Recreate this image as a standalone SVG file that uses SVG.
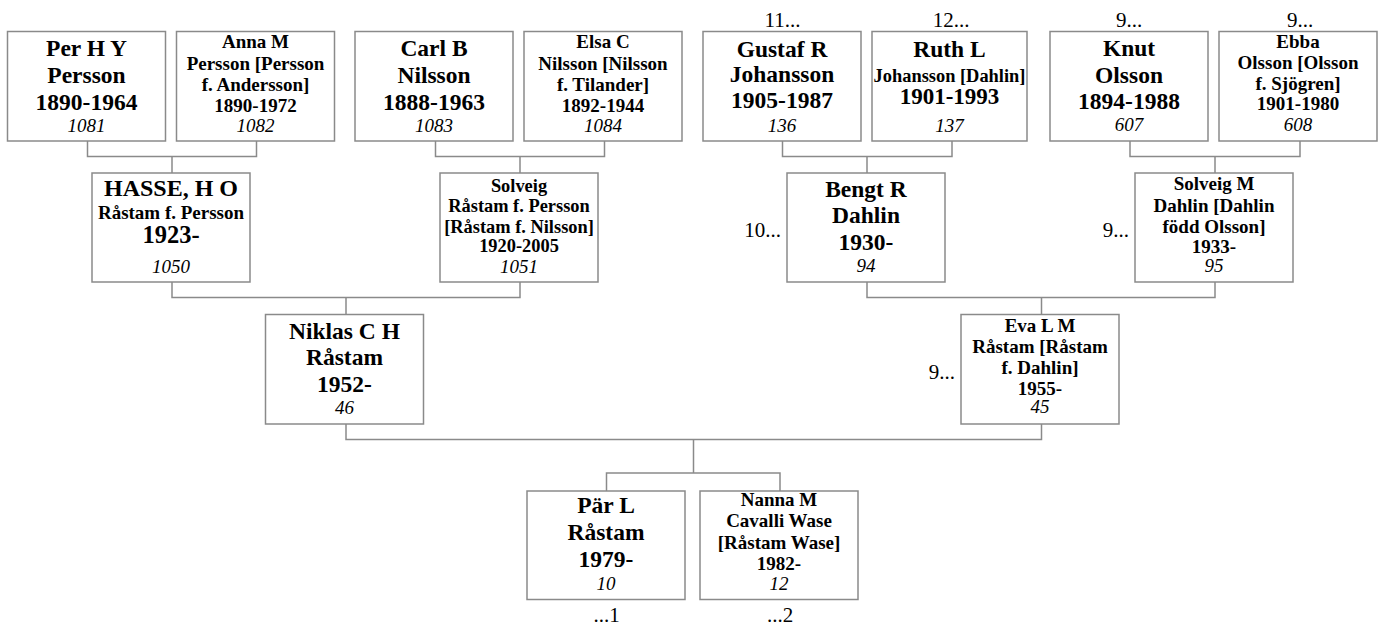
<svg xmlns="http://www.w3.org/2000/svg" width="1382" height="628" viewBox="0 0 1382 628">
<style>
.box{fill:#fff;stroke:#8a8a8a;stroke-width:1.5}
.c{fill:none;stroke:#8a8a8a;stroke-width:1.5}
text{fill:#000;text-anchor:middle}
.b{font-weight:bold;font-size:23.5px}
.s{font-weight:bold;font-size:19px}
.t{font-weight:bold;font-size:18.4px}
.i{font-style:italic;font-size:19px}
.l{font-size:21px}
.r{text-anchor:end}
</style>
<rect width="1382" height="628" fill="#fff"/>
<g id="connectors">
<path class="c" d="M87.5,141V156.5H256.5V141M172,156.5V173"/>
<path class="c" d="M435.5,141V156.5H604.5V141M520,156.5V173"/>
<path class="c" d="M782.5,141V156.5H952V141M867,156.5V173"/>
<path class="c" d="M1130,141V156.5H1300V141M1215,156.5V173"/>
<path class="c" d="M172,282V297.5H520V282M346,297.5V314"/>
<path class="c" d="M867,282V297.5H1215V282M1041.5,297.5V314"/>
<path class="c" d="M346,424V439.5H1041.5V424M693.5,439.5V473"/>
<path class="c" d="M606.5,491V473H780V491"/>
</g>
<g font-family="Liberation Serif, Times New Roman, serif">
<g id="n1081"><rect class="box" x="7.5" y="31.5" width="158" height="109.5"/>
<text class="b" x="86.5" y="56">Per H Y</text><text class="b" x="86.5" y="82.7">Persson</text><text class="b" x="86.5" y="109.5">1890-1964</text><text class="i" x="86.5" y="132.3">1081</text></g>
<g id="n1082"><rect class="box" x="176.5" y="31.5" width="158" height="109.5"/>
<text class="s" x="255.5" y="48.3">Anna M</text><text class="s" x="255.5" y="69.5">Persson [Persson</text><text class="s" x="255.5" y="91">f. Andersson]</text><text class="s" x="255.5" y="111.7">1890-1972</text><text class="i" x="255.5" y="132.3">1082</text></g>
<g id="n1083"><rect class="box" x="355" y="31.5" width="158" height="109.5"/>
<text class="b" x="434" y="56">Carl B</text><text class="b" x="434" y="82.7">Nilsson</text><text class="b" x="434" y="109.5">1888-1963</text><text class="i" x="434" y="132.3">1083</text></g>
<g id="n1084"><rect class="box" x="524" y="31.5" width="158" height="109.5"/>
<text class="s" x="603" y="48.3">Elsa C</text><text class="s" x="603" y="69.5">Nilsson [Nilsson</text><text class="s" x="603" y="91">f. Tilander]</text><text class="s" x="603" y="111.7">1892-1944</text><text class="i" x="603" y="132.3">1084</text></g>
<g id="n136"><rect class="box" x="703" y="31.5" width="158" height="109.5"/>
<text class="l" x="782.5" y="26.7">11...</text>
<text class="b" x="782" y="56.7">Gustaf R</text><text class="b" x="782" y="81.7">Johansson</text><text class="b" x="782" y="108.3">1905-1987</text><text class="i" x="782" y="131.7">136</text></g>
<g id="n137"><rect class="box" x="872" y="31.5" width="155" height="109.5"/>
<text class="l" x="951" y="26.7">12...</text>
<text class="b" x="949.5" y="56.7">Ruth L</text><text class="t" x="949.5" y="81.7">Johansson [Dahlin]</text><text class="b" x="949.5" y="103.5" style="font-size:23px">1901-1993</text><text class="i" x="949.5" y="131.7">137</text></g>
<g id="n607"><rect class="box" x="1050" y="31.5" width="158" height="109.5"/>
<text class="l" x="1129" y="26.7">9...</text>
<text class="b" x="1129" y="56">Knut</text><text class="b" x="1129" y="82.7">Olsson</text><text class="b" x="1129" y="109.3">1894-1988</text><text class="i" x="1129" y="131">607</text></g>
<g id="n608"><rect class="box" x="1219" y="31.5" width="158" height="109.5"/>
<text class="l" x="1300" y="26.7">9...</text>
<text class="s" x="1298" y="48.3">Ebba</text><text class="s" x="1298" y="68.5">Olsson [Olsson</text><text class="s" x="1298" y="90">f. Sjögren]</text><text class="s" x="1298" y="110">1901-1980</text><text class="i" x="1298" y="131">608</text></g>
<g id="n1050"><rect class="box" x="92" y="173" width="158" height="109"/>
<text class="b" x="171" y="196" style="font-size:24px">HASSE, H O</text><text class="s" x="171" y="219.3">Råstam f. Persson</text><text class="b" x="171" y="243.3" style="font-size:24.5px">1923-</text><text class="i" x="171" y="273.3">1050</text></g>
<g id="n1051"><rect class="box" x="440" y="173" width="158" height="109"/>
<text class="t" x="519" y="191.7">Solveig</text><text class="t" x="519" y="212.3">Råstam f. Persson</text><text class="t" x="519" y="232.7">[Råstam f. Nilsson]</text><text class="t" x="519" y="251.7">1920-2005</text><text class="i" x="519" y="272.5">1051</text></g>
<g id="n94"><rect class="box" x="787" y="173" width="158" height="109"/>
<text class="l r" x="781" y="236.7">10...</text>
<text class="b" x="866" y="196.7">Bengt R</text><text class="b" x="866" y="223.3">Dahlin</text><text class="b" x="866" y="250">1930-</text><text class="i" x="866" y="272.3">94</text></g>
<g id="n95"><rect class="box" x="1135" y="173" width="158" height="109"/>
<text class="l r" x="1129" y="236.7">9...</text>
<text class="s" x="1214" y="190">Solveig M</text><text class="s" x="1214" y="211.7">Dahlin [Dahlin</text><text class="s" x="1214" y="233.3">född Olsson]</text><text class="s" x="1214" y="253.3">1933-</text><text class="i" x="1214" y="271.7">95</text></g>
<g id="n46"><rect class="box" x="265.5" y="314.5" width="158" height="109.5"/>
<text class="b" x="344.5" y="339.3">Niklas C H</text><text class="b" x="344.5" y="365">Råstam</text><text class="b" x="344.5" y="391.7">1952-</text><text class="i" x="344.5" y="414.3">46</text></g>
<g id="n45"><rect class="box" x="961" y="314.5" width="158" height="109.5"/>
<text class="l r" x="955" y="379.3">9...</text>
<text class="s" x="1040" y="331.7">Eva L M</text><text class="s" x="1040" y="353.3">Råstam [Råstam</text><text class="s" x="1040" y="374">f. Dahlin]</text><text class="s" x="1040" y="395">1955-</text><text class="i" x="1040" y="413.3">45</text></g>
<g id="n10"><rect class="box" x="527" y="491" width="158" height="108.5"/>
<text class="b" x="606" y="513.3">Pär L</text><text class="b" x="606" y="540">Råstam</text><text class="b" x="606" y="567.3">1979-</text><text class="i" x="606" y="590">10</text>
<text class="l" x="606.5" y="621.7">...1</text></g>
<g id="n12"><rect class="box" x="700" y="491" width="158" height="108.5"/>
<text class="s" x="779" y="506">Nanna M</text><text class="s" x="779" y="527.3">Cavalli Wase</text><text class="s" x="779" y="549.3">[Råstam Wase]</text><text class="s" x="779" y="570">1982-</text><text class="i" x="779" y="590">12</text>
<text class="l" x="780" y="621.7">...2</text></g>
</g>
</svg>
